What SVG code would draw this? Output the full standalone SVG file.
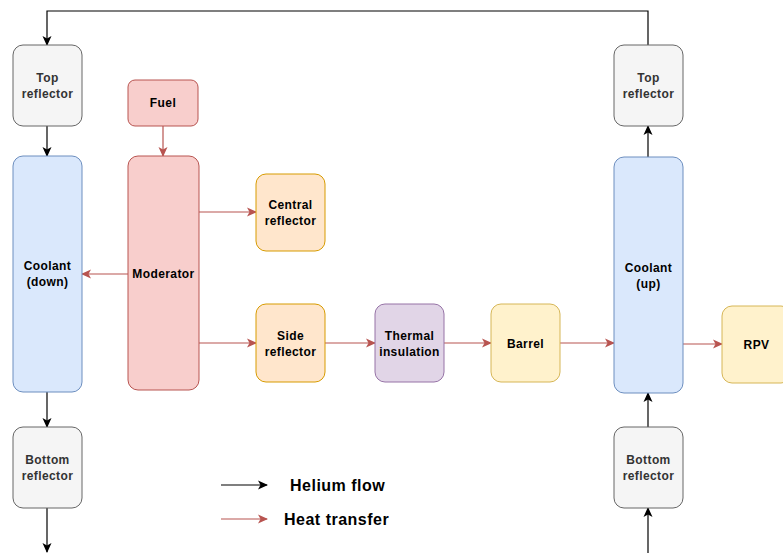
<svg xmlns="http://www.w3.org/2000/svg" width="783" height="553" viewBox="0 0 783 553">
<defs>
<marker id="ab" viewBox="0 0 10 10" refX="9" refY="5" markerWidth="10" markerHeight="10" markerUnits="userSpaceOnUse" orient="auto"><path d="M0,0.5 L10,5 L0,9.5 L2.5,5 Z" fill="#000"/></marker>
<marker id="ar" viewBox="0 0 10 10" refX="9" refY="5" markerWidth="10" markerHeight="10" markerUnits="userSpaceOnUse" orient="auto"><path d="M0,0.5 L10,5 L0,9.5 L2.5,5 Z" fill="#b85450"/></marker>
</defs>
<style>
rect{stroke-width:1}
.g{fill:#f5f5f5;stroke:#666666}
.b{fill:#dae8fc;stroke:#6c8ebf}
.r{fill:#f8cecc;stroke:#b85450}
.o{fill:#ffe6cc;stroke:#d79b00}
.p{fill:#e1d5e7;stroke:#9673a6}
.y{fill:#fff2cc;stroke:#d6b656}
text{font-family:"Liberation Sans",Arial,sans-serif;font-size:12px;font-weight:bold;text-anchor:middle;fill:#000;letter-spacing:0.4px}
.gt{fill:#333333}
.lg{font-size:16px;text-anchor:start;letter-spacing:0.5px}
.k{stroke:#000;fill:none;stroke-width:1.2;marker-end:url(#ab)}
.h{stroke:#b85450;fill:none;stroke-width:1.2;marker-end:url(#ar)}
</style>
<rect width="783" height="553" fill="#fff"/>
<g id="connectors">
<path class="k" d="M648,45 V11 H47 V45"/>
<path class="k" d="M47,126 V156"/>
<path class="k" d="M47,392 V427"/>
<path class="k" d="M47,508 V552"/>
<path class="k" d="M648,553 V508"/>
<path class="k" d="M648,427 V393"/>
<path class="k" d="M648,157 V126"/>
<path class="h" d="M163,126 V156"/>
<path class="h" d="M128,274 H82"/>
<path class="h" d="M199,212 H256"/>
<path class="h" d="M199,343 H256"/>
<path class="h" d="M325,343 H375"/>
<path class="h" d="M444,343 H491"/>
<path class="h" d="M560,343 H614"/>
<path class="h" d="M683,344 H722"/>
</g>
<g id="top-reflector-left"><rect class="g" x="13" y="45" width="69" height="81" rx="10"/><text class="gt" x="47.5" y="82">Top</text><text class="gt" x="47.5" y="98">reflector</text></g>
<g id="coolant-down"><rect class="b" x="13" y="156" width="69" height="236" rx="10"/><text x="47.5" y="270">Coolant</text><text x="47.5" y="286">(down)</text></g>
<g id="bottom-reflector-left"><rect class="g" x="13" y="427" width="69" height="81" rx="10"/><text class="gt" x="47.5" y="464">Bottom</text><text class="gt" x="47.5" y="480">reflector</text></g>
<g id="fuel"><rect class="r" x="128" y="80" width="70" height="46" rx="7"/><text x="163" y="107">Fuel</text></g>
<g id="moderator"><rect class="r" x="128" y="156" width="71" height="234" rx="10"/><text x="163.5" y="278">Moderator</text></g>
<g id="central-reflector"><rect class="o" x="256" y="174" width="69" height="77" rx="10"/><text x="290.5" y="209">Central</text><text x="290.5" y="225">reflector</text></g>
<g id="side-reflector"><rect class="o" x="256" y="304" width="69" height="78" rx="10"/><text x="290.5" y="340">Side</text><text x="290.5" y="356">reflector</text></g>
<g id="thermal-insulation"><rect class="p" x="375" y="304" width="69" height="78" rx="10"/><text x="409.5" y="340">Thermal</text><text x="409.5" y="356">insulation</text></g>
<g id="barrel"><rect class="y" x="491" y="304" width="69" height="78" rx="10"/><text x="525.5" y="348">Barrel</text></g>
<g id="coolant-up"><rect class="b" x="614" y="157" width="69" height="236" rx="10"/><text x="648.5" y="272">Coolant</text><text x="648.5" y="288">(up)</text></g>
<g id="rpv"><rect class="y" x="722" y="306" width="69" height="77" rx="10"/><text x="756.5" y="349">RPV</text></g>
<g id="top-reflector-right"><rect class="g" x="614" y="45" width="69" height="81" rx="10"/><text class="gt" x="648.5" y="82">Top</text><text class="gt" x="648.5" y="98">reflector</text></g>
<g id="bottom-reflector-right"><rect class="g" x="614" y="427" width="69" height="81" rx="10"/><text class="gt" x="648.5" y="464">Bottom</text><text class="gt" x="648.5" y="480">reflector</text></g>
<g id="legend">
<path class="k" d="M221,485 H267"/>
<text class="lg" x="290" y="491">Helium flow</text>
<path class="h" d="M221,519 H267"/>
<text class="lg" x="284" y="525">Heat transfer</text>
</g>
</svg>
